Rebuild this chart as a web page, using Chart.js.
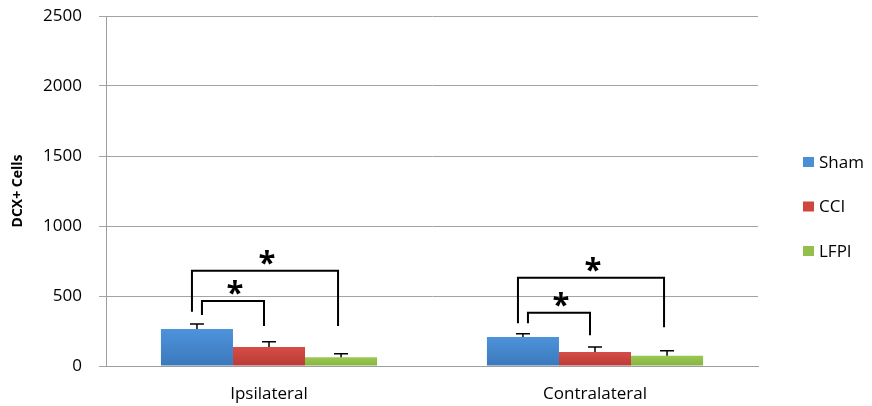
<!DOCTYPE html>
<html>
<head>
<meta charset="utf-8">
<script src="https://cdn.jsdelivr.net/npm/chart.js@4"></script>
<style>
  html, body { margin: 0; padding: 0; background: #fff; }
  #wrap { width: 872px; height: 406px; }
</style>
</head>
<body>
<div id="wrap"><canvas id="barChart" width="872" height="406"></canvas></div>
<script>
// categories and series values
const categories = ['Ipsilateral', 'Contralateral'];
const seriesNames = ['Sham', 'CCI', 'LFPI'];
const shamValues = [264, 207];
const cciValues = [136, 100];
const lfpiValues = [62, 74];
// upper error bar lengths
const shamErr = [36, 24];
const cciErr = [37, 36];
const lfpiErr = [26, 35];
// significance brackets (values on the y axis)
const outerTop = [680, 630];      // Sham vs LFPI
const outerLeftEnd = [387, 305];
const outerRightEnd = [286, 276];
const innerTop = [464, 380];      // Sham vs CCI
const innerLeftEnd = [364, 305];
const innerRightEnd = [286, 219];
const yTicks = [0, 500, 1000, 1500, 2000, 2500];

// top/bottom shades of each series
const shades = [
  ['#4d93db', '#3b78bb'], // blue
  ['#d64d46', '#b93b35'], // red
  ['#9ac951', '#86b343']  // green
];
const legendColors = ['#4a8ed6', '#d0463f', '#92c04a'];

const FONT = '"Open Sans", sans-serif';

function barFill(idx) {
  return function(ctx) {
    const chart = ctx.chart;
    if (!chart.chartArea || ctx.raw == null) return shades[idx][0];
    const y = chart.scales.y;
    const top = y.getPixelForValue(ctx.raw);
    const bottom = y.getPixelForValue(0);
    if (!(bottom > top)) return shades[idx][0];
    const g = chart.ctx.createLinearGradient(0, top, 0, bottom);
    g.addColorStop(0, shades[idx][0]);
    g.addColorStop(1, shades[idx][1]);
    return g;
  };
}

const errors = [shamErr, cciErr, lfpiErr];

// error bars, significance brackets and legend
const overlay = {
  id: 'overlay',
  afterDatasetsDraw(chart) {
    const c = chart.ctx;
    const y = chart.scales.y;
    const metas = [0, 1, 2].map(i => chart.getDatasetMeta(i));

    c.save();
    // error bars (upper only)
    c.strokeStyle = '#000';
    c.lineWidth = 1.5;
    metas.forEach((meta, i) => {
      meta.data.forEach((bar, j) => {
        const v = chart.data.datasets[i].data[j];
        const top = y.getPixelForValue(v + errors[i][j]);
        c.beginPath();
        c.moveTo(bar.x, bar.y);
        c.lineTo(bar.x, top);
        c.moveTo(bar.x - 7, top);
        c.lineTo(bar.x + 7, top);
        c.stroke();
      });
    });

    // brackets
    c.lineWidth = 2;
    c.fillStyle = '#000';
    c.font = 'bold 31px ' + FONT;
    c.textAlign = 'center';
    c.textBaseline = 'alphabetic';
    function bracket(x1, x2, yTop, yl, yr) {
      const pt = y.getPixelForValue(yTop);
      c.beginPath();
      c.moveTo(x1, y.getPixelForValue(yl));
      c.lineTo(x1, pt);
      c.lineTo(x2, pt);
      c.lineTo(x2, y.getPixelForValue(yr));
      c.stroke();
      c.fillText('*', (x1 + x2) / 2 + 2, pt + 2);
    }
    categories.forEach((cat, j) => {
      const xs = metas[0].data[j].x;
      const xc = metas[1].data[j].x;
      const xl = metas[2].data[j].x;
      bracket(xs - 5, xl - 3, outerTop[j], outerLeftEnd[j], outerRightEnd[j]);
      bracket(xs + 5, xc - 5, innerTop[j], innerLeftEnd[j], innerRightEnd[j]);
    });

    // legend
    c.font = '17px ' + FONT;
    c.textAlign = 'left';
    c.textBaseline = 'middle';
    seriesNames.forEach((name, i) => {
      const ly = 163 + i * 44.5;
      c.fillStyle = legendColors[i];
      c.fillRect(803, ly - 6, 11, 10);
      c.fillStyle = '#000';
      c.fillText(name, 819, ly);
    });
    c.restore();
  }
};

const ctx = document.getElementById('barChart').getContext('2d');
new Chart(ctx, {
  type: 'bar',
  data: {
    labels: categories,
    datasets: [
      { label: seriesNames[0], data: shamValues, backgroundColor: barFill(0) },
      { label: seriesNames[1], data: cciValues, backgroundColor: barFill(1) },
      { label: seriesNames[2], data: lfpiValues, backgroundColor: barFill(2) }
    ]
  },
  options: {
    responsive: false,
    animation: false,
    categoryPercentage: 0.663,
    barPercentage: 1.0,
    layout: { padding: { top: 16, right: 114, bottom: 0, left: 0 } },
    plugins: {
      legend: { display: false },
      tooltip: { enabled: false }
    },
    scales: {
      x: {
        afterFit: axis => { axis.height = 40; },
        grid: { display: false, drawTicks: false },
        border: { display: true, color: '#9e9e9e', width: 1 },
        ticks: { color: '#000', padding: 18, font: { family: FONT, size: 17 } }
      },
      y: {
        min: 0,
        max: 2500,
        afterBuildTicks: axis => { axis.ticks = yTicks.map(v => ({ value: v })); },
        afterFit: axis => {
          axis.width = 106;
          axis.paddingTop = 0;
          axis.paddingBottom = 0;
        },
        grid: { color: '#a3a3a3', lineWidth: 1, tickLength: 7 },
        border: { display: true, color: '#9e9e9e', width: 1 },
        ticks: {
          color: '#000', padding: 17, font: { family: FONT, size: 17 },
          callback: v => String(v)
        },
        title: {
          display: true,
          text: 'DCX+ Cells',
          color: '#000',
          padding: { top: 10, bottom: 0 },
          font: { family: FONT, size: 14, weight: 'bold' }
        }
      }
    }
  },
  plugins: [overlay]
});
</script>
</body>
</html>
